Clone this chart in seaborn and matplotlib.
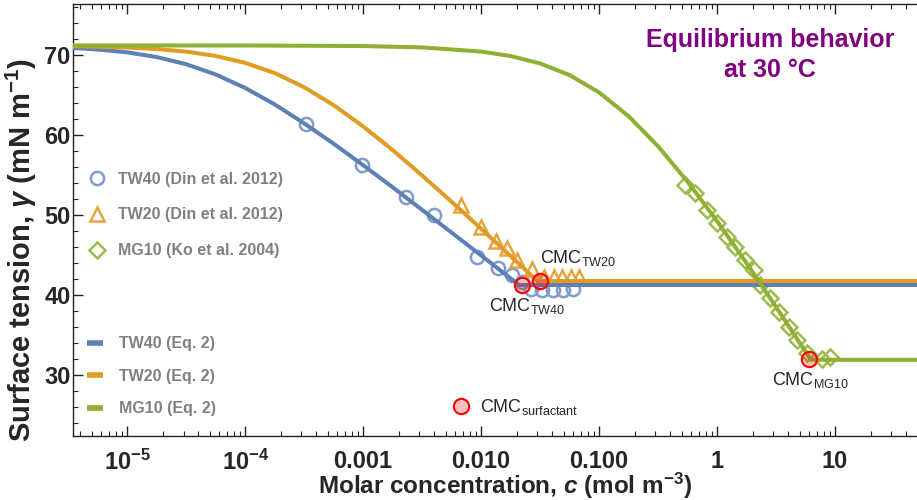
import numpy as np
import pandas as pd
import matplotlib
matplotlib.use("Agg")
import matplotlib.pyplot as plt
import seaborn as sns
from matplotlib.lines import Line2D
from matplotlib.ticker import FixedLocator, FixedFormatter, LogLocator, NullFormatter, MultipleLocator

# ---------------- data ----------------
# measured points
tw40_c = [3.29e-4, 9.77e-4, 2.30e-3, 3.97e-3, 9.18e-3, 1.38e-2, 1.82e-2, 2.21e-2,
          2.63e-2, 3.26e-2, 4.04e-2, 4.91e-2, 5.97e-2]
tw40_g = [61.4, 56.2, 52.2, 50.0, 44.8, 43.4, 42.5, 41.6, 40.8, 40.6, 40.6, 40.6, 40.8]

tw20_c = [6.73e-3, 9.93e-3, 1.33e-2, 1.67e-2, 2.03e-2, 2.72e-2, 3.41e-2, 4.12e-2,
          4.88e-2, 5.73e-2, 6.75e-2]
tw20_g = [51.3, 48.5, 46.8, 45.9, 44.4, 43.3, 42.2, 42.2, 42.2, 42.2, 42.2]

mg10_c = [0.539, 0.655, 0.823, 1.00, 1.215, 1.43, 1.74, 2.04, 2.32, 2.83, 3.32,
          4.04, 4.75, 5.78, 7.74, 9.10]
mg10_g = [53.75, 52.7, 50.6, 49.0, 47.3, 46.0, 44.4, 43.1, 41.25, 39.6, 37.9,
          36.0, 34.4, 32.75, 32.0, 32.25]

# Eq. 2 curves
fit40_c = [3.5e-6, 5.6e-6, 1e-5, 1.78e-5, 3.16e-5, 5.62e-5, 1e-4, 1.78e-4, 3.16e-4,
           5.62e-4, 1e-3, 1.78e-3, 3.16e-3, 5.62e-3, 0.01, 0.0178, 0.021, 50]
fit40_g = [70.87, 70.69, 70.33, 69.74, 68.85, 67.57, 65.88, 63.82, 61.46,
           58.91, 56.22, 53.46, 50.64, 47.80, 44.94, 42.07, 41.25, 41.25]

fit20_c = [3.5e-6, 1e-5, 1.78e-5, 3.16e-5, 5.62e-5, 1e-4, 1.78e-4, 3.16e-4, 5.62e-4,
           1e-3, 1.78e-3, 3.16e-3, 5.62e-3, 0.01, 0.0178, 0.0251, 0.0299, 50]
fit20_g = [71.11, 70.94, 70.75, 70.42, 69.88, 69.02, 67.74, 65.97, 63.73,
           61.07, 58.11, 54.94, 51.65, 48.28, 44.86, 42.79, 41.75, 41.75]

fit10_c = [3.5e-6, 1e-4, 1e-3, 3.16e-3, 0.01, 0.0178, 0.0316, 0.0562, 0.1, 0.178,
           0.316, 0.562, 1.0, 1.78, 3.16, 5.62, 6.24, 50]
fit10_g = [71.2, 71.19, 71.12, 70.95, 70.43, 69.87, 68.94, 67.49, 65.32, 62.35,
           58.59, 54.16, 49.23, 43.97, 38.50, 32.92, 31.9, 31.9]

# CMC points
cmc_c = [0.0221, 0.0316, 6.06]
cmc_g = [41.2, 41.8, 32.0]

series_names = ["TW40 (Din et al. 2012)", "TW20 (Din et al. 2012)", "MG10 (Ko et al. 2004)"]
fit_names = ["TW40 (Eq. 2)", "TW20 (Eq. 2)", "MG10 (Eq. 2)"]

xtick_vals = [1e-5, 1e-4, 1e-3, 1e-2, 1e-1, 1, 10]
xtick_labels = [r"$\mathbf{10^{-5}}$", r"$\mathbf{10^{-4}}$", "0.001", "0.010", "0.100", "1", "10"]
ytick_vals = [30, 40, 50, 60, 70]
ytick_labels = ["30", "40", "50", "60", "70"]

# ---------------- style ----------------
sns.set_theme(style="ticks")
plt.rcParams["font.family"] = ["Liberation Sans", "DejaVu Sans"]
plt.rcParams["mathtext.fontset"] = "custom"
plt.rcParams["mathtext.rm"] = "Liberation Sans"
plt.rcParams["mathtext.it"] = "Liberation Sans:italic"
plt.rcParams["mathtext.bf"] = "Liberation Sans:bold"
plt.rcParams["mathtext.bfit"] = "Liberation Sans:italic:bold"

line_cols = ["#5E81B5", "#E19C24", "#8FB032"]
mark_cols = ["#7F9CCB", "#E6A53C", "#9CBD4E"]

W, H = 917, 500
ax_l, ax_r, ax_t, ax_b = 73.3, 917.0, 4.0, 436.0
fig = plt.figure(figsize=(W / 100, H / 100), dpi=100)
ax = fig.add_axes([ax_l / W, 1 - ax_b / H, (ax_r - ax_l) / W, (ax_b - ax_t) / H])
ax.set_xscale("log")

# ---------------- markers ----------------
markers = [("o", 9.5), ("^", 10.5), ("D", 8.2)]
for (c, g), (m, ms), col in zip([(tw40_c, tw40_g), (tw20_c, tw20_g), (mg10_c, mg10_g)],
                                markers, mark_cols):
    df = pd.DataFrame({"c": c, "g": g})
    sns.lineplot(data=df, x="c", y="g", ax=ax, linestyle="", marker=m, markersize=ms,
                 markerfacecolor="none", markeredgecolor=col, markeredgewidth=1.8,
                 color=col, estimator=None, sort=False, zorder=2)

# ---------------- fitted curves ----------------
for (c, g), col, z in zip([(fit40_c, fit40_g), (fit20_c, fit20_g), (fit10_c, fit10_g)],
                          line_cols, [3, 3.1, 3.2]):
    df = pd.DataFrame({"c": c, "g": g})
    sns.lineplot(data=df, x="c", y="g", ax=ax, color=col, linewidth=2.9,
                 estimator=None, sort=False, zorder=z)

# ---------------- CMC points ----------------
cdf = pd.DataFrame({"c": cmc_c, "g": cmc_g})
sns.lineplot(data=cdf, x="c", y="g", ax=ax, linestyle="", marker="o", markersize=11,
             markerfacecolor=(1, 0, 0, 0.25), markeredgecolor="#FF0000",
             markeredgewidth=1.5, estimator=None, sort=False, zorder=5)

# CMC labels
ax.text(0.0317, 44.6, r"CMC$_{\mathrm{TW20}}$", fontsize=13, ha="left", va="center", zorder=6)
ax.text(0.0117, 38.6, r"CMC$_{\mathrm{TW40}}$", fontsize=13, ha="left", va="center", zorder=6)
ax.text(2.92, 29.4, r"CMC$_{\mathrm{MG10}}$", fontsize=13, ha="left", va="center", zorder=6)

# ---------------- axes ----------------
ax.set_xlim(3.49e-6, 49.5)
ax.set_ylim(22.375, 76.375)
ax.xaxis.set_major_locator(FixedLocator(xtick_vals))
ax.xaxis.set_major_formatter(FixedFormatter(xtick_labels))
ax.xaxis.set_minor_locator(LogLocator(base=10, subs=np.arange(2, 10), numticks=100))
ax.xaxis.set_minor_formatter(NullFormatter())
ax.yaxis.set_major_locator(FixedLocator(ytick_vals))
ax.yaxis.set_major_formatter(FixedFormatter(ytick_labels))
ax.yaxis.set_minor_locator(MultipleLocator(2))

ax.tick_params(which="both", direction="in", top=True, right=False, color="#222222")
ax.tick_params(which="major", length=7, width=1.0, labelsize=17)
ax.tick_params(which="minor", length=3.5, width=0.8)
ax.tick_params(axis="x", which="major", pad=10)
ax.tick_params(axis="y", which="major", pad=2)
for lab in ax.get_xticklabels() + ax.get_yticklabels():
    lab.set_fontweight("bold")
for s in ["left", "bottom", "top"]:
    ax.spines[s].set_color("#222222")
    ax.spines[s].set_linewidth(1.0)
ax.spines["right"].set_visible(False)

ax.set_xlabel(r"Molar concentration, $\mathbfit{c}$ (mol m$^{\mathbf{-3}}$)",
              fontsize=17.5, fontweight="bold", va="center")
ax.xaxis.set_label_coords((505 - ax_l) / (ax_r - ax_l), (ax_b - 486) / (ax_b - ax_t))
ax.set_ylabel(r"Surface tension, $\mathbfit{\gamma}$ (mN m$^{\mathbf{-1}}$)",
              fontsize=21, fontweight="bold", va="center")
ax.yaxis.set_label_coords((21.5 - ax_l) / (ax_r - ax_l), (ax_b - 250) / (ax_b - ax_t))

# title annotation
ax.text(0.8258, 0.882, "Equilibrium behavior\nat 30 \u00b0C", transform=ax.transAxes,
        ha="center", va="center", multialignment="center", fontsize=18,
        fontweight="bold", color="#800080", linespacing=1.35)

# ---------------- legends ----------------
h1 = [Line2D([], [], linestyle="", marker=m, markersize=ms, markerfacecolor="none",
             markeredgecolor=col, markeredgewidth=1.8)
      for (m, ms), col in zip(markers, mark_cols)]
leg1 = ax.legend(h1, series_names, loc="upper left", bbox_to_anchor=(0.0167, 0.612),
                 frameon=False, borderpad=0, borderaxespad=0, handlelength=1.2,
                 handletextpad=0.7, labelspacing=1.3, labelcolor="#808080",
                 prop={"weight": "bold", "size": 11.5})
ax.add_artist(leg1)

h2 = [Line2D([], [], color=col, linewidth=4, solid_capstyle="butt") for col in line_cols]
leg2 = ax.legend(h2, fit_names, loc="upper left", bbox_to_anchor=(0.0167, 0.231),
                 frameon=False, borderpad=0, borderaxespad=0, handlelength=1.0,
                 handletextpad=0.95, labelspacing=1.1, labelcolor="#808080",
                 prop={"weight": "bold", "size": 11.5})
ax.add_artist(leg2)

h3 = [Line2D([], [], linestyle="", marker="o", markersize=11,
             markerfacecolor=(1, 0, 0, 0.25), markeredgecolor="#FF0000", markeredgewidth=1.5)]
leg3 = ax.legend(h3, [r"CMC$_{\mathrm{surfactant}}$"], loc="center left",
                 bbox_to_anchor=((448 - ax_l) / (ax_r - ax_l), (ax_b - 407) / (ax_b - ax_t)),
                 frameon=False, borderpad=0, borderaxespad=0, handlelength=1.4,
                 handletextpad=0.35, prop={"size": 13})

fig.savefig("out.png", dpi=100)
